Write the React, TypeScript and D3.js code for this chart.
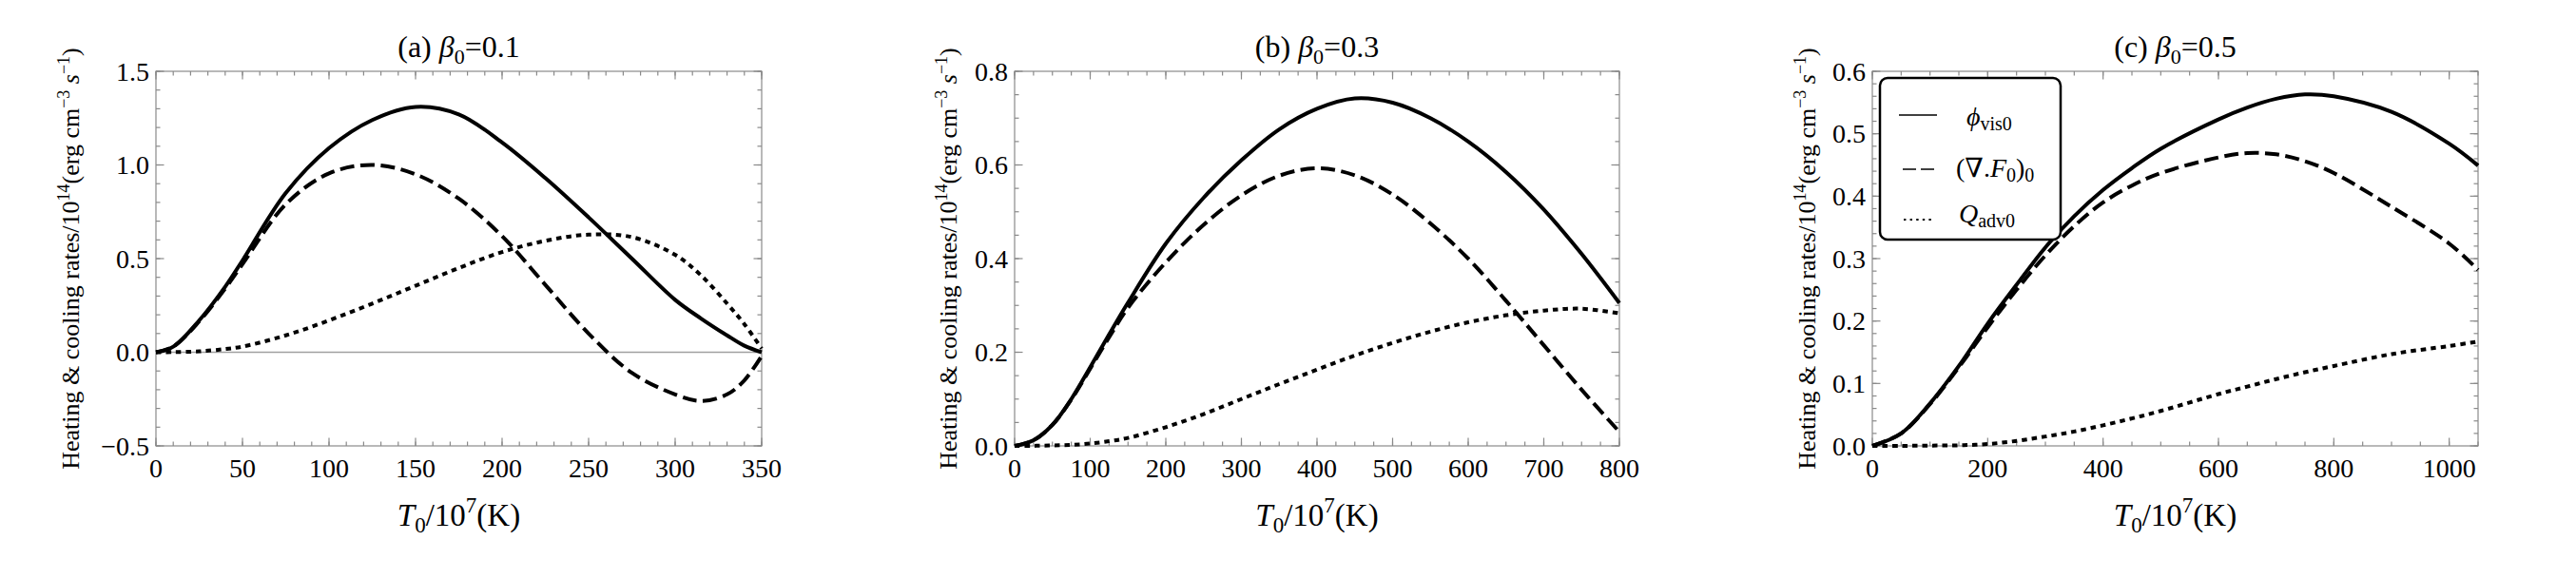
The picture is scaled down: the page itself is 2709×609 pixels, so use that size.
import { useEffect } from "react";
import * as d3 from "d3";

const W = 2709,
  H = 609,
  plotTop = 75,
  plotBottom = 469;

// (a) beta0 = 0.1
const tempA = [0, 10, 25, 40, 50, 75, 100, 125, 150, 175, 200, 225, 250, 275, 300, 315, 330, 340, 350];
const visA = [0, 0.03, 0.17, 0.35, 0.49, 0.85, 1.09, 1.24, 1.31, 1.27, 1.12, 0.93, 0.72, 0.5, 0.28, 0.18, 0.09, 0.035, 0];
const fluxA = [0, 0.03, 0.165, 0.34, 0.47, 0.79, 0.955, 1.0, 0.95, 0.82, 0.62, 0.36, 0.1, -0.11, -0.225, -0.26, -0.225, -0.15, -0.02];
const advA = [0, 0.001, 0.005, 0.017, 0.03, 0.09, 0.17, 0.26, 0.355, 0.45, 0.535, 0.595, 0.628, 0.615, 0.52, 0.41, 0.26, 0.15, 0.02];
const xTicksA = [0, 50, 100, 150, 200, 250, 300, 350];
const yTicksA = [-0.5, 0, 0.5, 1.0, 1.5];

// (b) beta0 = 0.3
const tempB = [0, 25, 50, 75, 100, 125, 150, 200, 250, 300, 350, 400, 450, 500, 550, 600, 650, 700, 750, 800];
const visB = [0, 0.012, 0.045, 0.1, 0.168, 0.238, 0.306, 0.432, 0.53, 0.61, 0.676, 0.72, 0.742, 0.733, 0.7, 0.65, 0.585, 0.505, 0.41, 0.305];
const fluxB = [0, 0.012, 0.045, 0.099, 0.165, 0.232, 0.295, 0.392, 0.472, 0.535, 0.577, 0.593, 0.578, 0.537, 0.475, 0.4, 0.31, 0.215, 0.12, 0.03];
const advB = [0, 0.0002, 0.001, 0.002, 0.005, 0.01, 0.017, 0.04, 0.068, 0.1, 0.132, 0.163, 0.193, 0.22, 0.244, 0.264, 0.279, 0.289, 0.293, 0.283];
const xTicksB = [0, 100, 200, 300, 400, 500, 600, 700, 800];
const yTicksB = [0, 0.2, 0.4, 0.6, 0.8];

// (c) beta0 = 0.5
const tempC = [0, 50, 100, 150, 200, 250, 300, 350, 400, 450, 500, 600, 650, 700, 750, 800, 900, 1000, 1050];
const visC = [0, 0.02, 0.068, 0.128, 0.196, 0.258, 0.318, 0.368, 0.41, 0.445, 0.476, 0.523, 0.542, 0.556, 0.563, 0.56, 0.535, 0.484, 0.449];
const fluxC = [0, 0.02, 0.067, 0.126, 0.19, 0.25, 0.305, 0.352, 0.39, 0.417, 0.437, 0.462, 0.469, 0.467, 0.456, 0.437, 0.383, 0.324, 0.282];
const advC = [0, 0.0001, 0.0005, 0.001, 0.003, 0.008, 0.015, 0.023, 0.033, 0.044, 0.056, 0.083, 0.095, 0.107, 0.118, 0.128, 0.147, 0.16, 0.167];
const xTicksC = [0, 200, 400, 600, 800, 1000];
const yTicksC = [0, 0.1, 0.2, 0.3, 0.4, 0.5, 0.6];

const panels = [
  { key: "a", beta: "0.1", left: 164, right: 801, xMax: 350, yMin: -0.5, yMax: 1.5, xTicks: xTicksA, yTicks: yTicksA, xMinor: 10, yMinor: 0.1, temp: tempA, vis: visA, flux: fluxA, adv: advA, labelX: 83, zeroLine: true },
  { key: "b", beta: "0.3", left: 1067, right: 1703, xMax: 800, yMin: 0, yMax: 0.8, xTicks: xTicksB, yTicks: yTicksB, xMinor: 25, yMinor: 0.05, temp: tempB, vis: visB, flux: fluxB, adv: advB, labelX: 1006, zeroLine: false },
  { key: "c", beta: "0.5", left: 1969, right: 2606, xMax: 1050, yMin: 0, yMax: 0.6, xTicks: xTicksC, yTicks: yTicksC, xMinor: 50, yMinor: 0.02, temp: tempC, vis: visC, flux: fluxC, adv: advC, labelX: 1909, zeroLine: false },
];

const frameColor = "#8a8a8a";
const major = 8.5,
  minor = 4.5;
const fmtY = d3.format(".1f");

function Panel({ p }) {
  const x = d3.scaleLinear().domain([0, p.xMax]).range([p.left, p.right]);
  const y = d3.scaleLinear().domain([p.yMin, p.yMax]).range([plotBottom, plotTop]);
  const line = (vals) =>
    d3
      .line<number>()
      .x((_, i) => x(p.temp[i]))
      .y((d) => y(d))
      .curve(d3.curveCatmullRom.alpha(0.5))(vals);

  const xMinors = d3.range(0, p.xMax + 1e-9, p.xMinor);
  const yMinors = d3.range(p.yMin, p.yMax + 1e-9, p.yMinor);
  const cx = (p.left + p.right) / 2;
  const cy = (plotTop + plotBottom) / 2;

  return (
    <g>
      <defs>
        <clipPath id={`clip-${p.key}`}>
          <rect x={p.left - 2} y={plotTop - 2} width={p.right - p.left + 4} height={plotBottom - plotTop + 4} />
        </clipPath>
      </defs>
      {p.zeroLine && (
        <line x1={p.left} x2={p.right} y1={y(0)} y2={y(0)} stroke="#a0a0a0" strokeWidth={1.3} />
      )}
      <g stroke={frameColor} strokeWidth={1.2}>
        {xMinors.map((t) => (
          <g key={"xm" + t}>
            <line x1={x(t)} x2={x(t)} y1={plotBottom} y2={plotBottom - minor} />
            <line x1={x(t)} x2={x(t)} y1={plotTop} y2={plotTop + minor} />
          </g>
        ))}
        {p.xTicks.map((t) => (
          <g key={"xM" + t}>
            <line x1={x(t)} x2={x(t)} y1={plotBottom} y2={plotBottom - major} />
            <line x1={x(t)} x2={x(t)} y1={plotTop} y2={plotTop + major} />
          </g>
        ))}
        {yMinors.map((t) => (
          <g key={"ym" + t}>
            <line x1={p.left} x2={p.left + minor} y1={y(t)} y2={y(t)} />
            <line x1={p.right} x2={p.right - minor} y1={y(t)} y2={y(t)} />
          </g>
        ))}
        {p.yTicks.map((t) => (
          <g key={"yM" + t}>
            <line x1={p.left} x2={p.left + major} y1={y(t)} y2={y(t)} />
            <line x1={p.right} x2={p.right - major} y1={y(t)} y2={y(t)} />
          </g>
        ))}
        <rect x={p.left} y={plotTop} width={p.right - p.left} height={plotBottom - plotTop} fill="none" />
      </g>

      <g clipPath={`url(#clip-${p.key})`} fill="none" stroke="#000" strokeWidth={4}>
        <path d={line(p.adv)} strokeDasharray="5.5,5" />
        <path d={line(p.flux)} strokeDasharray="15,6.5" />
        <path d={line(p.vis)} />
      </g>

      <g fontSize={28} fill="#000">
        {p.xTicks.map((t) => (
          <text key={"xl" + t} x={x(t)} y={502} textAnchor="middle">
            {t}
          </text>
        ))}
        {p.yTicks.map((t) => (
          <text key={"yl" + t} x={p.left - 7} y={y(t)} dy="0.35em" textAnchor="end">
            {fmtY(t)}
          </text>
        ))}
      </g>

      <text x={cx} y={60} textAnchor="middle" fontSize={32}>
        {"(" + p.key + ") "}
        <tspan fontStyle="italic">β</tspan>
        <tspan fontSize={22} dy={7}>0</tspan>
        <tspan dy={-7}>{"=" + p.beta}</tspan>
      </text>

      <text x={cx} y={553} textAnchor="middle" fontSize={33}>
        <tspan fontStyle="italic">T</tspan>
        <tspan fontSize={23} dy={7}>0</tspan>
        <tspan dy={-7}>/10</tspan>
        <tspan fontSize={23} dy={-14}>7</tspan>
        <tspan dy={14}>(K)</tspan>
      </text>

      <text transform={`translate(${p.labelX},${cy}) rotate(-90)`} textAnchor="middle" fontSize={26}>
        {"Heating & cooling rates/10"}
        <tspan fontSize={18} dy={-10}>14</tspan>
        <tspan dy={10}>(erg cm</tspan>
        <tspan fontSize={18} dy={-10}>−3</tspan>
        <tspan dy={10}> </tspan>
        <tspan fontStyle="italic">s</tspan>
        <tspan fontSize={18} dy={-10}>−1</tspan>
        <tspan dy={10}>)</tspan>
      </text>
    </g>
  );
}

function Legend() {
  return (
    <g>
      <rect x={1977} y={82} width={190} height={170} rx={8} fill="#fff" stroke="#000" strokeWidth={2.5} />
      <g stroke="#000" strokeWidth={1.6}>
        <line x1={1997} x2={2037} y1={121} y2={121} />
        <line x1={2001} x2={2036} y1={178} y2={178} strokeDasharray="14,5" />
        <line x1={2002} x2={2034} y1={231} y2={231} strokeWidth={2.2} strokeDasharray="2.4,4.2" />
      </g>
      <g fontSize={28}>
        <text x={2068} y={132}>
          <tspan fontStyle="italic">ϕ</tspan>
          <tspan fontSize={20} dy={5}>vis0</tspan>
        </text>
        <text x={2057} y={186}>
          {"(∇."}
          <tspan fontStyle="italic">F</tspan>
          <tspan fontSize={20} dy={5}>0</tspan>
          <tspan dy={-5}>)</tspan>
          <tspan fontSize={20} dy={5}>0</tspan>
        </text>
        <text x={2060} y={234}>
          <tspan fontStyle="italic">Q</tspan>
          <tspan fontSize={20} dy={5}>adv0</tspan>
        </text>
      </g>
    </g>
  );
}

export default function App() {
  useEffect(() => {
    document.body.style.margin = "0";
  }, []);

  return (
    <svg
      width={W}
      height={H}
      viewBox={`0 0 ${W} ${H}`}
      style={{ display: "block", background: "#fff", fontFamily: "'Liberation Serif', 'DejaVu Serif', serif" }}
    >
      {panels.map((p) => (
        <Panel key={p.key} p={p} />
      ))}
      <Legend />
    </svg>
  );
}
